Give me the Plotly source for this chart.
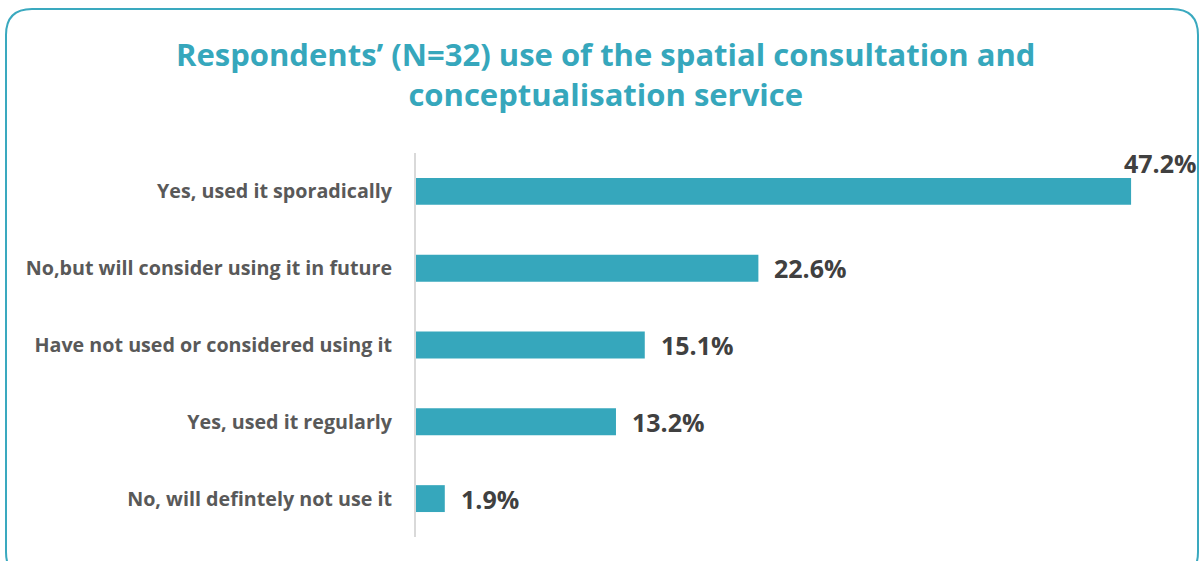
import plotly.graph_objects as go

# Survey responses, top to bottom
categories = [
    "Yes, used it sporadically",
    "No,but will consider using it in future",
    "Have not used or considered using it",
    "Yes, used it regularly",
    "No, will defintely not use it",
]
percentages = [47.2, 22.6, 15.1, 13.2, 1.9]
value_labels = ["47.2%", "22.6%", "15.1%", "13.2%", "1.9%"]

W, H = 1200, 561
ML, MR, MT, MB = 416, 50, 153, 24
PX_PER_PCT = 15.15
x_max = (W - ML - MR) / PX_PER_PCT

TEAL = "#36A7BC"
TEXT_DARK = "#404040"
TEXT_MID = "#595959"
FONT = "'Open Sans', sans-serif"


def px_x(px):
    return (px - ML) / (W - ML - MR)


def px_y(py):
    return 1 - (py - MT) / (H - MT - MB)


fig = go.Figure(
    go.Bar(
        x=percentages,
        y=categories,
        orientation="h",
        marker=dict(color=TEAL, line=dict(width=0)),
        hoverinfo="skip",
    )
)

# value labels next to each bar; the longest one sits above its bar end
annotations = []
for i, (cat, val, lab) in enumerate(zip(categories, percentages, value_labels)):
    first = i == 0
    annotations.append(dict(
        x=val, y=cat, xref="x", yref="y", text=lab, showarrow=False,
        xanchor="left", xshift=-9 if first else 14, yshift=28 if first else 0,
        font=dict(family=FONT, size=25, color=TEXT_DARK, weight="bold"),
    ))

annotations.append(dict(
    x=px_x(605), y=px_y(74), xref="paper", yref="paper", showarrow=False,
    xanchor="center", yanchor="middle",
    text="Respondents’ (N=32) use of the spatial consultation and<br>conceptualisation service",
    font=dict(family=FONT, size=31, color=TEAL, weight="bold"), align="center",
))

# rounded frame around the whole chart
x0, y0, x1, y1, r = 6, 9, 1198, 578, 26
path = (
    f"M {px_x(x0 + r)},{px_y(y0)} L {px_x(x1 - r)},{px_y(y0)} "
    f"Q {px_x(x1)},{px_y(y0)} {px_x(x1)},{px_y(y0 + r)} "
    f"L {px_x(x1)},{px_y(y1 - r)} Q {px_x(x1)},{px_y(y1)} {px_x(x1 - r)},{px_y(y1)} "
    f"L {px_x(x0 + r)},{px_y(y1)} Q {px_x(x0)},{px_y(y1)} {px_x(x0)},{px_y(y1 - r)} "
    f"L {px_x(x0)},{px_y(y0 + r)} Q {px_x(x0)},{px_y(y0)} {px_x(x0 + r)},{px_y(y0)} Z"
)

fig.update_layout(
    width=W, height=H,
    margin=dict(l=ML, r=MR, t=MT, b=MB),
    paper_bgcolor="white", plot_bgcolor="white",
    bargap=0.65,
    showlegend=False,
    annotations=annotations,
    shapes=[dict(type="path", path=path, xref="paper", yref="paper",
                 line=dict(color="#3AA9BF", width=2), fillcolor="rgba(0,0,0,0)", layer="below")],
    xaxis=dict(range=[0, x_max], showgrid=False, zeroline=False, showticklabels=False,
               showline=False, fixedrange=True),
    yaxis=dict(categoryorder="array", categoryarray=categories[::-1], autorange=False,
               range=[-0.5, len(categories) - 0.5],
               showgrid=False, zeroline=False, showline=True, linecolor="#D9D9D9", linewidth=2,
               ticks="", ticklabelstandoff=18,
               tickfont=dict(family=FONT, size=19.7, color=TEXT_MID, weight="bold"),
               fixedrange=True),
)

fig.write_html("out.html", config={"displayModeBar": False})
